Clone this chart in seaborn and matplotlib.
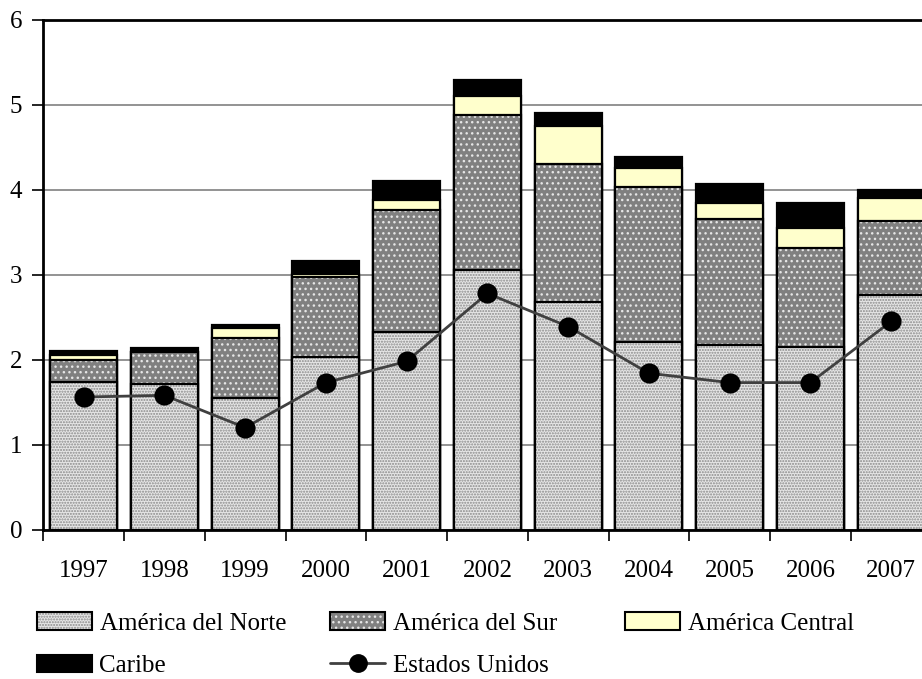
import numpy as np
import pandas as pd
import matplotlib
matplotlib.use("Agg")
import matplotlib.pyplot as plt
import seaborn as sns
from matplotlib.patches import Patch
from matplotlib.lines import Line2D
from matplotlib.ticker import FixedLocator

# Data
years = ['1997', '1998', '1999', '2000', '2001', '2002', '2003', '2004', '2005', '2006', '2007']
norte = [1.74, 1.71, 1.55, 2.03, 2.33, 3.06, 2.68, 2.21, 2.17, 2.15, 2.76]
sur = [0.26, 0.38, 0.71, 0.94, 1.43, 1.82, 1.63, 1.82, 1.49, 1.17, 0.87]
central = [0.06, 0.0, 0.11, 0.035, 0.12, 0.23, 0.44, 0.23, 0.185, 0.23, 0.275]
caribe = [0.04, 0.05, 0.04, 0.16, 0.22, 0.18, 0.16, 0.125, 0.22, 0.30, 0.095]
eeuu = [1.56, 1.58, 1.20, 1.73, 1.98, 2.78, 2.39, 1.84, 1.73, 1.73, 2.45]

labels = ['América del Norte', 'América del Sur', 'América Central', 'Caribe']
# face, hatch, hatch colour
styles = [('#e6e6e6', '......', '#8a8a8a'),
          ('#808080', '...', '#e6e6e6'),
          ('#ffffcc', None, '#ffffcc'),
          ('#000000', None, '#000000')]

sns.set_style("ticks")
plt.rcParams['font.family'] = ['Liberation Serif', 'DejaVu Serif']
plt.rcParams['font.size'] = 18
plt.rcParams['text.color'] = 'black'
plt.rcParams['xtick.labelcolor'] = 'black'
plt.rcParams['ytick.labelcolor'] = 'black'

df = pd.DataFrame({'year': years, 'norte': norte, 'sur': sur,
                   'central': central, 'caribe': caribe, 'eeuu': eeuu})
stack = np.cumsum(np.array([norte, sur, central, caribe]), axis=0)

fig = plt.figure(figsize=(9.22, 6.79), dpi=100)
ax = fig.add_axes([43.3 / 922, (679 - 529.5) / 679, 888.2 / 922, 509.5 / 679])

# stacked bars: draw cumulative totals from the top down so each covers the next
for i in range(3, -1, -1):
    fc, hatch, hc = styles[i]
    n0 = len(ax.patches)
    sns.barplot(x=years, y=stack[i], color=fc, saturation=1, width=0.83,
                errorbar=None, ax=ax)
    for p in ax.patches[n0:]:
        p.set_facecolor(fc)
        p.set_edgecolor(hc)
        p.set_linewidth(0)
        p.set_hatch(hatch)
        p.set_zorder(2 + (3 - i) * 0.1)
    n0 = len(ax.patches)
    sns.barplot(x=years, y=stack[i], color='black', saturation=1, width=0.83,
                errorbar=None, ax=ax)
    for p in ax.patches[n0:]:
        p.set_facecolor('none')
        p.set_edgecolor('black')
        p.set_linewidth(1.6)
        p.set_zorder(2.05 + (3 - i) * 0.1)

sns.pointplot(data=df, x='year', y='eeuu', color='#404040', markers='o',
              linestyles='-', errorbar=None, ax=ax, zorder=5)
line = ax.lines[-1]
line.set_linewidth(2)
line.set_markersize(12.5)
line.set_markerfacecolor('black')
line.set_markeredgecolor('black')

ax.set_xlim(-0.5, 10.5)
ax.set_ylim(0, 6)
ax.set_yticks(range(7))
ax.set_xticks(range(len(years)))
ax.set_xticklabels(years)
ax.xaxis.set_minor_locator(FixedLocator(np.arange(-0.5, 11, 1)))
ax.tick_params(axis='x', which='major', length=0, pad=22, labelcolor='black')
ax.tick_params(axis='x', which='minor', length=8, width=1.2, color='black', direction='out')
ax.tick_params(axis='y', length=8, width=1.2, color='black', direction='out', pad=7,
               labelcolor='black')
ax.set_xlabel('')
ax.set_ylabel('')
ax.grid(axis='y', color='#808080', linewidth=1.2)
ax.set_axisbelow(True)
for side in ['left', 'top', 'bottom', 'right']:
    ax.spines[side].set_visible(True)
    ax.spines[side].set_color('black')
    ax.spines[side].set_linewidth(2)

# legend, laid out in three columns like the original
def bar_handle(i):
    fc, hatch, hc = styles[i]
    fill = Patch(facecolor=fc, edgecolor=hc, hatch=hatch, linewidth=0)
    edge = Patch(facecolor='none', edgecolor='black', linewidth=1.5)
    return (fill, edge)

us_handle = Line2D([], [], color='#404040', linewidth=2, marker='o',
                   markersize=12.5, markerfacecolor='black', markeredgecolor='black')

leg_kw = dict(loc='upper left', frameon=False, borderpad=0, borderaxespad=0,
              handlelength=2.2, handleheight=0.7, handletextpad=0.3,
              labelspacing=0.8, fontsize=18, labelcolor='black')
top = (679 - 612) / 679
fig.legend([bar_handle(0), bar_handle(3)], [labels[0], labels[3]],
           bbox_to_anchor=(37 / 922, top), **leg_kw)
fig.legend([bar_handle(1), us_handle], [labels[1], 'Estados Unidos'],
           bbox_to_anchor=(330 / 922, top), **leg_kw)
fig.legend([bar_handle(2)], [labels[2]],
           bbox_to_anchor=(625 / 922, top), **leg_kw)

fig.savefig('out.png', dpi=100)
